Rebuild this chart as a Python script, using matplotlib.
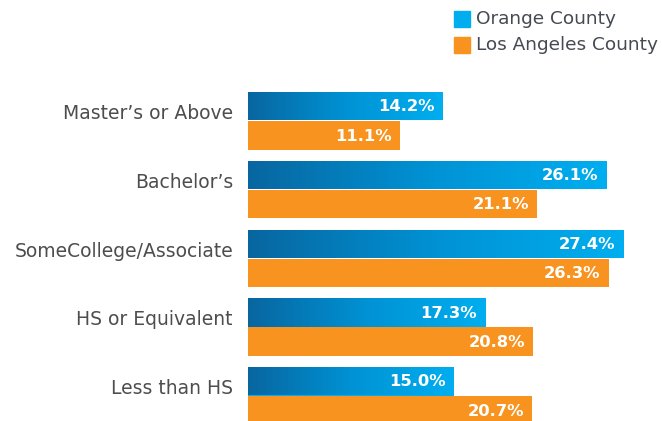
import matplotlib
matplotlib.use("Agg")
import matplotlib.pyplot as plt
import numpy as np
from matplotlib.patches import Rectangle
from matplotlib.colors import LinearSegmentedColormap

categories = ["Master\u2019s or Above", "Bachelor\u2019s", "SomeCollege/Associate",
              "HS or Equivalent", "Less than HS"]
orange_county = [14.2, 26.1, 27.4, 17.3, 15.0]
la_county = [11.1, 21.1, 26.3, 20.8, 20.7]
series_names = ["Orange County", "Los Angeles County"]

W, H = 662, 421
fig = plt.figure(figsize=(W / 100, H / 100), dpi=100)
ax = fig.add_axes([248 / W, 0, 414 / W, 1])
ax.set_xlim(0, 414 / 13.72)
ax.set_ylim((421 - 120.5) / 68.75, -120.5 / 68.75)
ax.axis("off")

blue_light = "#00aeef"
blue_dark = "#0866a0"
orange = "#f7931e"
cmap = LinearSegmentedColormap.from_list("bg", [blue_dark, "#0092d4", blue_light])
grad = np.linspace(0, 1, 256).reshape(1, -1)

h = 0.413
pos = np.arange(len(categories))
bars_oc = ax.barh(pos - h / 2, orange_county, height=h, color=blue_light, linewidth=0)
bars_la = ax.barh(pos + h / 2 + 0.01, la_county, height=h, color=orange, linewidth=0)

for b in bars_oc:
    x0, y0 = b.get_x(), b.get_y()
    w, hh = b.get_width(), b.get_height()
    im = ax.imshow(grad, cmap=cmap, aspect="auto", extent=(x0, x0 + w, y0 + hh, y0),
                   interpolation="bicubic", zorder=3)
    im.set_clip_path(b)

val_font = dict(color="white", fontsize=11.8, fontweight="bold", family="DejaVu Sans",
                ha="right", va="center", zorder=5)
for b, v in zip(bars_oc, orange_county):
    ax.text(v - 0.6, b.get_y() + b.get_height() / 2 + 0.01, f"{v:.1f}%", **val_font)
for b, v in zip(bars_la, la_county):
    ax.text(v - 0.6, b.get_y() + b.get_height() / 2 + 0.01, f"{v:.1f}%", **val_font)

for p, c in zip(pos, categories):
    ax.text(-15 / 13.72, p - 0.1, c, ha="right", va="center", fontsize=13.5,
            color="#4d4d4f", family="DejaVu Sans", clip_on=False)

# legend
leg_colors = [blue_light, orange]
for i, (name, col) in enumerate(zip(series_names, leg_colors)):
    ytop = 11 + i * 26
    fig.patches.append(Rectangle((454 / W, 1 - (ytop + 16) / H), 16 / W, 16 / H,
                                 transform=fig.transFigure, color=col))
    fig.text(476 / W, 1 - (ytop + 8) / H, name, ha="left", va="center", fontsize=13.3,
             color="#454a52", family="DejaVu Sans")

fig.savefig("out.png", dpi=100)
